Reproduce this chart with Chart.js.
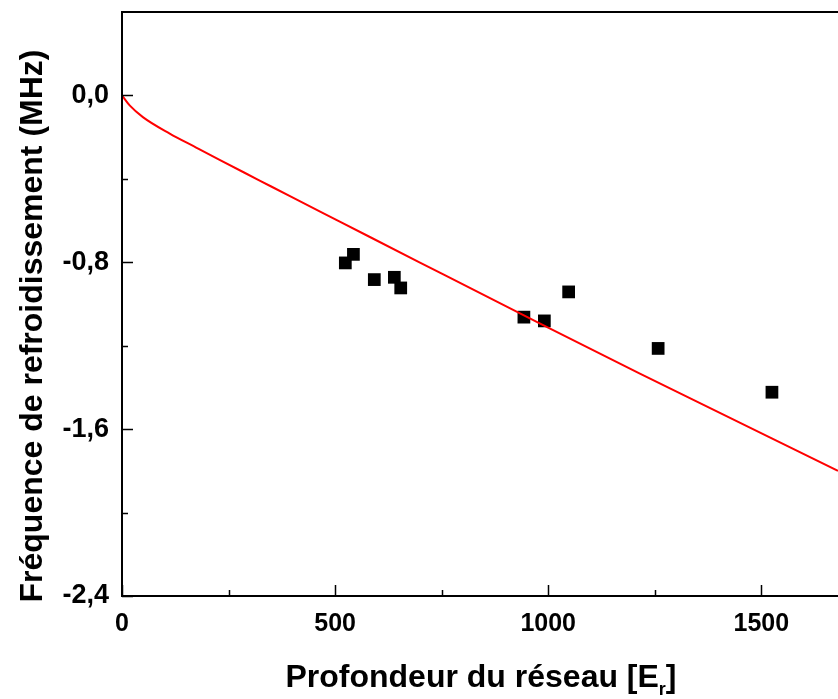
<!DOCTYPE html>
<html>
<head>
<meta charset="utf-8">
<script src="https://cdn.jsdelivr.net/npm/chart.js@4.4.1/dist/chart.umd.min.js"></script>
<style>
  html, body { margin: 0; padding: 0; background: #fff; }
  #wrap { width: 838px; height: 699px; }
</style>
</head>
<body>
<div id="wrap"><canvas id="chart" width="838" height="699"></canvas></div>
<script>
// measured points (lattice depth in E_r, cooling frequency in MHz)
const depthMeasured = [524, 543, 592, 639, 654, 943, 991, 1048, 1258, 1525];
const freqMeasured = [-0.803, -0.762, -0.883, -0.872, -0.923, -1.063, -1.081, -0.942, -1.213, -1.423];

// red theory curve
const depthCurve = [0, 18, 49, 112, 174, 229, 323, 393, 511, 698, 980, 1214, 1680];
const freqCurve = [0, -0.048, -0.104, -0.183, -0.250, -0.309, -0.408, -0.482, -0.605, -0.800, -1.093, -1.333, -1.80];

const xTicks = [0, 500, 1000, 1500];
const xMinorTicks = [250, 750, 1250];
const yTicks = [0, -0.8, -1.6, -2.4];
const yMinorTicks = [-0.4, -1.2, -2.0];

const FONT = '"Liberation Sans", Arial, sans-serif';

const measured = depthMeasured.map((x, i) => ({ x: x, y: freqMeasured[i] }));
const curve = depthCurve.map((x, i) => ({ x: x, y: freqCurve[i] }));

function noPadding(s) {
  s.paddingLeft = 0;
  s.paddingRight = 0;
  s.paddingTop = 0;
  s.paddingBottom = 0;
}

// frame, inward ticks and axis titles
const framePlugin = {
  id: 'frame',
  afterDraw(chart) {
    const ctx = chart.ctx;
    const a = chart.chartArea;
    const xs = chart.scales.x;
    const ys = chart.scales.y;
    ctx.save();
    ctx.strokeStyle = '#000';
    ctx.lineWidth = 2;
    ctx.beginPath();
    ctx.moveTo(chart.width, a.top);
    ctx.lineTo(a.left, a.top);
    ctx.lineTo(a.left, a.bottom);
    ctx.lineTo(chart.width, a.bottom);
    ctx.stroke();

    ctx.lineWidth = 1.5;
    ctx.beginPath();
    xTicks.forEach(v => {
      const px = Math.round(xs.getPixelForValue(v)) + 0.5;
      ctx.moveTo(px, a.bottom); ctx.lineTo(px, a.bottom - 11);
    });
    xMinorTicks.forEach(v => {
      const px = Math.round(xs.getPixelForValue(v)) + 0.5;
      ctx.moveTo(px, a.bottom); ctx.lineTo(px, a.bottom - 6);
    });
    yTicks.forEach(v => {
      const py = Math.round(ys.getPixelForValue(v)) + 0.5;
      ctx.moveTo(a.left, py); ctx.lineTo(a.left + 11, py);
    });
    yMinorTicks.forEach(v => {
      const py = Math.round(ys.getPixelForValue(v)) + 0.5;
      ctx.moveTo(a.left, py); ctx.lineTo(a.left + 6, py);
    });
    ctx.stroke();

    ctx.fillStyle = '#000';
    ctx.font = 'bold 32px ' + FONT;
    ctx.textBaseline = 'alphabetic';

    // x title with subscript r
    const main = 'Profondeur du réseau [E';
    const sub = 'r';
    const end = ']';
    const wMain = ctx.measureText(main).width;
    const wEnd = ctx.measureText(end).width;
    ctx.font = 'bold 18px ' + FONT;
    const wSub = ctx.measureText(sub).width;
    const total = wMain + wSub + wEnd;
    let x0 = 481 - total / 2;
    ctx.textAlign = 'left';
    ctx.font = 'bold 32px ' + FONT;
    ctx.fillText(main, x0, 687);
    ctx.font = 'bold 18px ' + FONT;
    ctx.fillText(sub, x0 + wMain, 695);
    ctx.font = 'bold 32px ' + FONT;
    ctx.fillText(end, x0 + wMain + wSub, 687);

    // y title
    ctx.translate(42, 326);
    ctx.rotate(-Math.PI / 2);
    ctx.textAlign = 'center';
    ctx.fillText('Fréquence de refroidissement (MHz)', 0, 0);
    ctx.restore();
  }
};

new Chart(document.getElementById('chart'), {
  type: 'scatter',
  data: {
    datasets: [
      {
        label: 'theory',
        data: curve,
        showLine: true,
        borderColor: '#ff0000',
        borderWidth: 2,
        pointRadius: 0,
        cubicInterpolationMode: 'monotone',
        fill: false
      },
      {
        label: 'mesures',
        data: measured,
        pointStyle: 'rect',
        pointRadius: 9,
        pointHoverRadius: 9,
        backgroundColor: '#000',
        borderColor: '#000',
        borderWidth: 0
      }
    ]
  },
  options: {
    responsive: false,
    animation: false,
    devicePixelRatio: 1,
    layout: { autoPadding: false, padding: { top: 12, right: 0, left: 0, bottom: 0 } },
    plugins: {
      legend: { display: false },
      tooltip: { enabled: false }
    },
    scales: {
      x: {
        type: 'linear',
        min: 0,
        max: 1680,
        border: { display: false },
        grid: { display: false, drawTicks: false, tickLength: 0 },
        afterBuildTicks: s => { s.ticks = xTicks.map(v => ({ value: v })); },
        afterFit: s => { s.height = 103; noPadding(s); },
        ticks: {
          padding: 13,
          color: '#000',
          font: { family: FONT, size: 25, weight: 'bold' },
          maxRotation: 0,
          callback: v => String(v)
        }
      },
      y: {
        type: 'linear',
        min: -2.4,
        max: 0.4,
        border: { display: false },
        grid: { display: false, drawTicks: false, tickLength: 0 },
        afterBuildTicks: s => { s.ticks = yTicks.map(v => ({ value: v })); },
        afterFit: s => { s.width = 122; noPadding(s); },
        ticks: {
          padding: 13,
          color: '#000',
          font: { family: FONT, size: 27, weight: 'bold' },
          callback: v => v.toFixed(1).replace('.', ',')
        }
      }
    }
  },
  plugins: [framePlugin]
});
</script>
</body>
</html>
